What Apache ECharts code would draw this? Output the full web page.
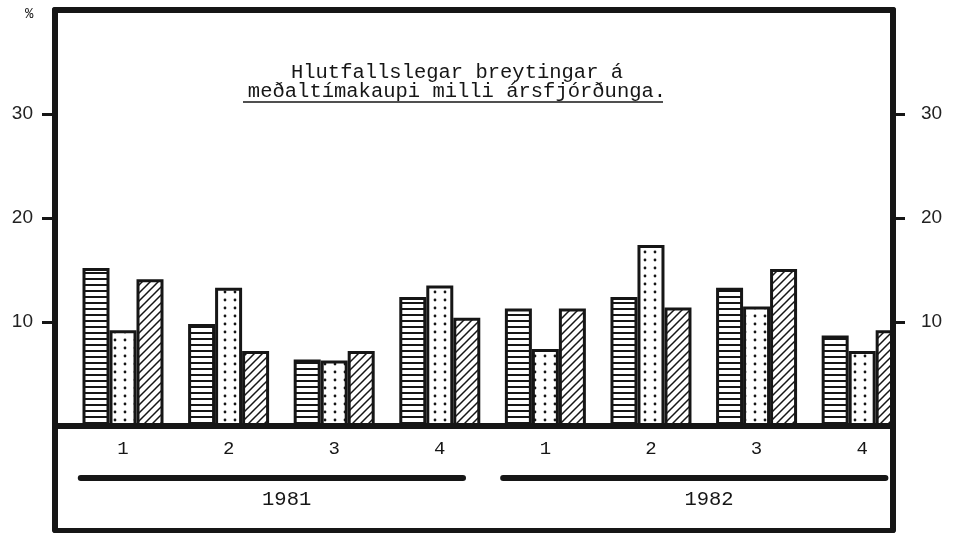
<!DOCTYPE html>
<html>
<head>
<meta charset="utf-8">
<script src="https://cdn.jsdelivr.net/npm/echarts@6/dist/echarts.min.js"></script>
<style>
    html, body { margin: 0; padding: 0; background: #fff; }
    #main { width: 956px; height: 534px; }
</style>
</head>
<body>
<div id="main"></div>
<script>
    // quarters on the axis, grouped by year
    const quarters = ['1', '2', '3', '4', '1', '2', '3', '4']
    const years = ['1981', '1982']
    const yTicks = [10, 20, 30]
    // three bars per quarter (%)
    const valuesLines = [15.2, 9.8, 6.4, 12.4, 11.3, 12.4, 13.3, 8.7]
    const valuesDots = [9.2, 13.3, 6.3, 13.5, 7.4, 17.4, 11.5, 7.2]
    const valuesHatch = [14.1, 7.2, 7.2, 10.4, 11.3, 11.4, 15.1, 9.2]

    const ink = '#161616'
    const monoFont = '"Liberation Mono", "DejaVu Sans Mono", monospace'
    const sansFont = '"Liberation Sans", "DejaVu Sans", sans-serif'

    // fill patterns drawn on small canvases
    function makePattern(kind) {
        const c = document.createElement('canvas')
        const ctx = c.getContext('2d')
        if (kind === 'lines') {
            c.width = 8; c.height = 6
            ctx.fillStyle = '#fff'; ctx.fillRect(0, 0, 8, 6)
            ctx.fillStyle = ink; ctx.fillRect(0, 2, 8, 2)
        } else if (kind === 'dots') {
            c.width = 10; c.height = 8
            ctx.fillStyle = '#fff'; ctx.fillRect(0, 0, 10, 8)
            ctx.fillStyle = ink
            ctx.beginPath(); ctx.arc(5, 4, 1.4, 0, Math.PI * 2); ctx.fill()
        } else {
            c.width = 8; c.height = 8
            ctx.fillStyle = '#fff'; ctx.fillRect(0, 0, 8, 8)
            ctx.strokeStyle = ink; ctx.lineWidth = 1.5
            ctx.beginPath()
            ctx.moveTo(0, 8); ctx.lineTo(8, 0)
            ctx.moveTo(-1, 1); ctx.lineTo(1, -1)
            ctx.moveTo(7, 9); ctx.lineTo(9, 7)
            ctx.stroke()
        }
        return c
    }

    function barSeries(name, values, kind) {
        return {
            name: name,
            type: 'bar',
            xAxisIndex: 0,
            yAxisIndex: 0,
            data: values.map((v, i) => [i, v]),
            barWidth: 27,
            barGap: '0%',
            itemStyle: {
                color: { image: makePattern(kind), repeat: 'repeat' },
                borderColor: ink,
                borderWidth: 3
            },
            emphasis: { disabled: true }
        }
    }

    const chart = echarts.init(document.getElementById('main'))

    const frameLine = { show: true, onZero: false, lineStyle: { color: ink, width: 6 } }

    const series = [
        barSeries('lines', valuesLines, 'lines'),
        barSeries('dots', valuesDots, 'dots'),
        barSeries('hatch', valuesHatch, 'hatch')
    ]
    // zero baseline and the year underlines (on the middle bar series)
    series[1].markLine = {
        silent: true,
        symbol: 'none',
        label: { show: false },
        z: 5,
        lineStyle: { color: ink, width: 6, type: 'solid', cap: 'round' },
        data: [
            { yAxis: 0 }
        ].concat(years.map((y, yi) => [
            { coord: [yi * 4 - 0.4, -5] },
            { coord: [yi * 4 + 3.22, -5] }
        ]))
    }

    const option = {
        animation: false,
        backgroundColor: '#fff',
        title: {
            text: 'Hlutfallslegar breytingar á\nmeðaltímakaupi milli ársfjórðunga.',
            left: 452,
            top: 58,
            textAlign: 'center',
            textStyle: {
                fontFamily: monoFont,
                fontSize: 20.5,
                fontWeight: 'normal',
                lineHeight: 19,
                color: ink
            }
        },
        grid: { left: 55, right: 63, top: 10, bottom: 4 },
        xAxis: [
            {
                type: 'value', min: -0.644, max: 7.292,
                position: 'bottom',
                axisLine: { show: true, onZero: false, lineStyle: { color: ink, width: 5 } },
                axisTick: { show: false },
                splitLine: { show: false },
                axisLabel: {
                    inside: true, margin: 72,
                    customValues: quarters.map((q, i) => i),
                    formatter: v => quarters[Math.round(v)],
                    fontFamily: monoFont, fontSize: 19, color: ink
                },
                z: 4
            },
            {
                type: 'value', min: -0.644, max: 7.292,
                position: 'bottom',
                axisLine: { show: false, onZero: false },
                axisTick: { show: false },
                splitLine: { show: false },
                axisLabel: {
                    inside: true, margin: 20,
                    customValues: years.map((y, yi) => yi * 4 + 1.55),
                    formatter: v => years[Math.floor(v / 4)],
                    fontFamily: monoFont, fontSize: 20.5, color: ink
                }
            },
            {
                type: 'value', min: -0.644, max: 7.292,
                position: 'top',
                axisLine: { show: true, onZero: false, lineStyle: { color: ink, width: 6 } },
                axisTick: { show: false },
                splitLine: { show: false },
                axisLabel: { show: false },
                z: 4
            }
        ],
        yAxis: [
            {
                type: 'value', min: -10, max: 40, interval: 10,
                position: 'left',
                axisLine: frameLine,
                axisTick: { show: true, customValues: yTicks, length: 13, lineStyle: { color: ink, width: 3 } },
                axisLabel: {
                    customValues: yTicks, margin: 22,
                    fontFamily: sansFont, fontSize: 19, color: '#222'
                },
                splitLine: { show: false },
                z: 4
            },
            {
                type: 'value', min: -10, max: 40, interval: 10,
                position: 'right',
                axisLine: frameLine,
                axisTick: { show: true, customValues: yTicks, length: 12, lineStyle: { color: ink, width: 3 } },
                axisLabel: {
                    customValues: yTicks, margin: 28,
                    fontFamily: sansFont, fontSize: 19, color: '#222'
                },
                splitLine: { show: false },
                z: 4
            }
        ],
        graphic: [
            {
                // keeps the last bar inside the frame
                type: 'rect', z: 3,
                shape: { x: 896, y: 0, width: 60, height: 534 },
                style: { fill: '#fff' }
            },
            {
                type: 'text', left: 25, top: 7,
                style: { text: '%', fontFamily: monoFont, fontSize: 14, fill: ink }
            },
            {
                type: 'line',
                shape: { x1: 243, y1: 102, x2: 663, y2: 102 },
                style: { stroke: ink, lineWidth: 1.5 }
            }
        ],
        series: series
    }
    chart.setOption(option)
</script>
</body>
</html>
